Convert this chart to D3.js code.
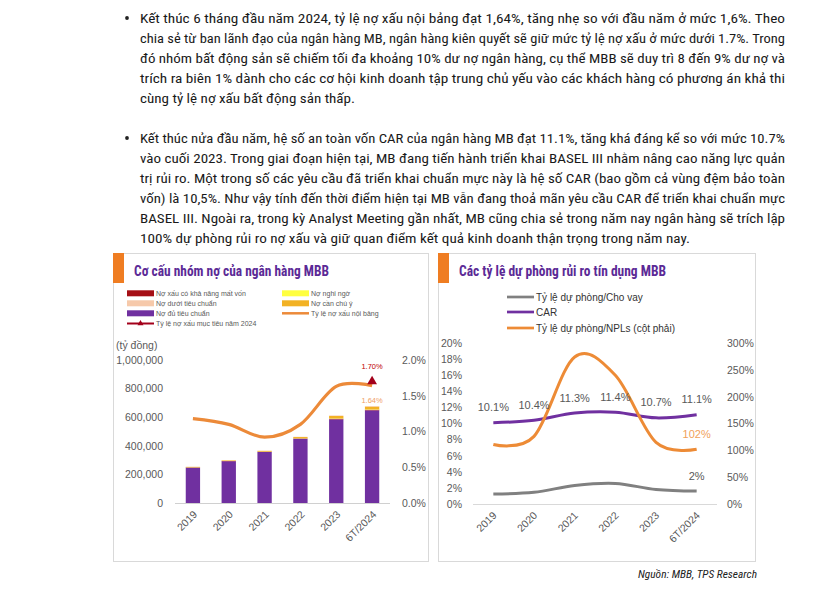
<!DOCTYPE html>
<html><head><meta charset="utf-8">
<script src="https://cdn.jsdelivr.net/npm/d3@7"></script>
<style>
html,body{margin:0;padding:0;background:#fff;}
svg{display:block;}
</style></head><body>
<svg id="c" width="814" height="590"></svg>
<script>
// ---------- DATA ----------
const years = ["2019", "2020", "2021", "2022", "2023", "6T/2024"];
// Left chart: loan groups (tỷ đồng)
const duTieuChuan   = [247000, 292000, 357000, 449000, 585000, 648000]; // Nợ đủ tiêu chuẩn
const canChuY       = [3500, 4000, 5500, 9000, 17000, 19000];          // Nợ cần chú ý
const duoiTieuChuan = [900, 900, 1300, 1700, 3500, 4000];               // Nợ dưới tiêu chuẩn
const nghiNgo       = [500, 600, 700, 1200, 2500, 3000];                // Nợ nghi ngờ
const matVon        = [1600, 1700, 1400, 2100, 3800, 4100];             // Nợ xấu có khả năng mất vốn
const nplRatio      = [1.18, 1.10, 0.92, 1.10, 1.63, 1.64];             // Tỷ lệ nợ xấu nội bảng (%)
const nplTarget2024 = 1.70;                                             // Tỷ lệ nợ xấu mục tiêu năm 2024 (%)
const leftTicks1  = [0, 200000, 400000, 600000, 800000, 1000000];
const rightTicks1 = [0, 0.5, 1.0, 1.5, 2.0];
// Right chart
const provisionLoans = [1.25, 1.45, 2.3, 2.55, 1.8, 1.6];   // Tỷ lệ dự phòng/Cho vay (%)
const carRatio       = [10.1, 10.4, 11.3, 11.4, 10.7, 11.1]; // CAR (%)
const llrRatio       = [111, 126, 274, 240, 115, 102];       // Tỷ lệ dự phòng/NPLs (%) right axis
const leftTicks2  = [0, 2, 4, 6, 8, 10, 12, 14, 16, 18, 20];
const rightTicks2 = [0, 50, 100, 150, 200, 250, 300];

const para1 = [
  "Kết thúc 6 tháng đầu năm 2024, tỷ lệ nợ xấu nội bảng đạt 1,64%, tăng nhẹ so với đầu năm ở mức 1,6%. Theo",
  "chia sẻ từ ban lãnh đạo của ngân hàng MB, ngân hàng kiên quyết sẽ giữ mức tỷ lệ nợ xấu ở mức dưới 1.7%. Trong",
  "đó nhóm bất động sản sẽ chiếm tối đa khoảng 10% dư nợ ngân hàng, cụ thể MBB sẽ duy trì 8 đến 9% dư nợ và",
  "trích ra biên 1% dành cho các cơ hội kinh doanh tập trung chủ yếu vào các khách hàng có phương án khả thi",
  "cùng tỷ lệ nợ xấu bất động sản thấp."
];
const para2 = [
  "Kết thúc nửa đầu năm, hệ số an toàn vốn CAR của ngân hàng MB đạt 11.1%, tăng khá đáng kể so với mức 10.7%",
  "vào cuối 2023. Trong giai đoạn hiện tại, MB đang tiến hành triển khai BASEL III nhằm nâng cao năng lực quản",
  "trị rủi ro. Một trong số các yêu cầu đã triển khai chuẩn mực này là hệ số CAR (bao gồm cả vùng đệm bảo toàn",
  "vốn) là 10,5%. Như vậy tính đến thời điểm hiện tại MB vẫn đang thoả mãn yêu cầu CAR để triển khai chuẩn mực",
  "BASEL III. Ngoài ra, trong kỳ Analyst Meeting gần nhất, MB cũng chia sẻ trong năm nay ngân hàng sẽ trích lập",
  "100% dự phòng rủi ro nợ xấu và giữ quan điểm kết quả kinh doanh thận trọng trong năm nay."
];

// ---------- DRAW ----------
const svg = d3.select("#c");
const NARROW = "'Liberation Sans Narrow','Roboto Condensed','Liberation Sans',Arial,sans-serif";
const SANS = "'Liberation Sans',Arial,sans-serif";
const GRAY = "#595959";

// Paragraphs
function drawPara(lines, y0, lastLen) {
  const g = svg.append("g");
  g.append("circle").attr("cx", 127).attr("cy", y0 - 4.5).attr("r", 1.9).attr("fill", "#222");
  lines.forEach((t, i) => {
    const last = i === lines.length - 1;
    g.append("text").attr("x", 140).attr("y", y0 + i * 20.1)
      .attr("font-family", NARROW).attr("font-size", 13).attr("fill", "#1a1a1a")
      .attr("textLength", last ? lastLen : 645).attr("lengthAdjust", "spacingAndGlyphs")
      .text(t);
  });
}
drawPara(para1, 22.5, 215);
drawPara(para2, 142.5, 550);

// Panels
function panel(x, w, title, titleLen) {
  svg.append("rect").attr("x", x + 0.5).attr("y", 253.5).attr("width", w).attr("height", 308)
    .attr("fill", "none").attr("stroke", "#d9d9d9");
  svg.append("rect").attr("x", x).attr("y", 253).attr("width", 11).attr("height", 30).attr("fill", "#ef7d22");
  svg.append("text").attr("x", x + 21).attr("y", 276).attr("font-family", NARROW)
    .attr("font-weight", "bold").attr("font-size", 14).attr("fill", "#5b2a96")
    .attr("textLength", titleLen).attr("lengthAdjust", "spacingAndGlyphs").text(title);
}
panel(113, 315, "Cơ cấu nhóm nợ của ngân hàng MBB", 195);
panel(438, 317, "Các tỷ lệ dự phòng rủi ro tín dụng MBB", 207);

// ===== Left chart =====
const colors = {
  g1: "#7030a0", g5: "#a50f15", g4: "#ffff40", g2: "#f2b224", g3: "#f6c9aa"
};
const x1 = d3.scaleBand().domain(years).range([175, 390]).paddingInner(0.6).paddingOuter(0.3);
const y1 = d3.scaleLinear().domain([0, 1000000]).range([503, 360]);
const y1r = d3.scaleLinear().domain([0, 2.0]).range([503, 360]);

const rows = years.map((yr, i) => ({year: yr, g1: duTieuChuan[i], g5: matVon[i], g4: nghiNgo[i], g2: canChuY[i], g3: duoiTieuChuan[i]}));
const stack = d3.stack().keys(["g1", "g5", "g4", "g2", "g3"])(rows);
const L = svg.append("g");
stack.forEach(s => {
  L.append("g").attr("fill", colors[s.key]).selectAll("rect").data(s).join("rect")
    .attr("x", d => x1(d.data.year)).attr("width", x1.bandwidth())
    .attr("y", d => y1(d[1])).attr("height", d => Math.max(0, y1(d[0]) - y1(d[1])));
});
// baseline
L.append("line").attr("x1", 175).attr("x2", 390).attr("y1", 503.5).attr("y2", 503.5).attr("stroke", "#d0d0d0");
// axis labels
const axL1 = d3.axisLeft(y1).tickValues(leftTicks1).tickFormat(d3.format(",")).tickSize(0).tickPadding(0);
L.append("g").attr("transform", "translate(163,0)").call(axL1)
  .call(g => g.select(".domain").remove())
  .selectAll("text").attr("font-family", SANS).attr("font-size", 10.5).attr("fill", GRAY);
const axR1 = d3.axisRight(y1r).tickValues(rightTicks1).tickFormat(d => d.toFixed(1) + "%").tickSize(0).tickPadding(0);
L.append("g").attr("transform", "translate(402,0)").call(axR1)
  .call(g => g.select(".domain").remove())
  .selectAll("text").attr("font-family", SANS).attr("font-size", 10.5).attr("fill", GRAY);
L.append("text").attr("x", 116).attr("y", 349).attr("font-family", SANS).attr("font-size", 10.5)
  .attr("fill", GRAY).text("(tỷ đồng)");
// x labels
years.forEach(yr => {
  const cx = x1(yr) + x1.bandwidth() / 2;
  L.append("text").attr("transform", `translate(${cx + 5},515) rotate(-45)`).attr("text-anchor", "end")
    .attr("font-family", SANS).attr("font-size", 10.5).attr("fill", GRAY).text(yr);
});
// NPL line
const cx1 = d => x1(d) + x1.bandwidth() / 2;
const lineNpl = d3.line().x((d, i) => cx1(years[i])).y(d => y1r(d)).curve(d3.curveCardinal.tension(0));
L.append("path").attr("d", lineNpl(nplRatio)).attr("fill", "none").attr("stroke", "#ec8a39").attr("stroke-width", 3.2);
const lastX = cx1(years[years.length - 1]);
L.append("text").attr("x", lastX).attr("y", y1r(nplRatio[5]) + 17.5).attr("text-anchor", "middle")
  .attr("font-family", SANS).attr("font-size", 7.5).attr("fill", "#f0a064").text(nplRatio[5].toFixed(2) + "%");
// target marker
const tri = d3.symbol().type(d3.symbolTriangle).size(42);
L.append("path").attr("d", tri()).attr("transform", `translate(${lastX},${y1r(nplTarget2024)})`).attr("fill", "#a3001b");
L.append("text").attr("x", lastX).attr("y", y1r(nplTarget2024) - 12).attr("text-anchor", "middle")
  .attr("font-family", SANS).attr("font-size", 7.5).attr("fill", "#c00000").text(nplTarget2024.toFixed(2) + "%");

// Left legend
const legItems = [
  {t: "Nợ xấu có khả năng mất vốn", c: colors.g5, x: 127, y: 293.3, type: "rect"},
  {t: "Nợ nghi ngờ", c: colors.g4, x: 282, y: 293.3, type: "rect"},
  {t: "Nợ dưới tiêu chuẩn", c: colors.g3, x: 127, y: 303.3, type: "rect"},
  {t: "Nợ cần chú ý", c: colors.g2, x: 282, y: 303.3, type: "rect"},
  {t: "Nợ đủ tiêu chuẩn", c: colors.g1, x: 127, y: 313.3, type: "rect"},
  {t: "Tỷ lệ nợ xấu nội bảng", c: "#ec8a39", x: 282, y: 313.3, type: "line"},
  {t: "Tỷ lệ nợ xấu mục tiêu năm 2024", c: "#a3001b", x: 127, y: 323.5, type: "marker"}
];
legItems.forEach(it => {
  if (it.type === "rect") {
    L.append("rect").attr("x", it.x).attr("y", it.y - 3).attr("width", 27).attr("height", 6).attr("fill", it.c);
  } else {
    L.append("line").attr("x1", it.x).attr("x2", it.x + 27).attr("y1", it.y).attr("y2", it.y)
      .attr("stroke", it.c).attr("stroke-width", it.type === "line" ? 2.5 : 2);
    if (it.type === "marker") {
      L.append("path").attr("d", d3.symbol().type(d3.symbolTriangle).size(16)())
        .attr("transform", `translate(${it.x + 13.5},${it.y})`).attr("fill", it.c);
    }
  }
  L.append("text").attr("x", it.x + 29).attr("y", it.y + 2.5).attr("font-family", SANS)
    .attr("font-size", 7).attr("fill", GRAY).text(it.t);
});

// ===== Right chart =====
const R = svg.append("g");
const x2 = d3.scaleBand().domain(years).range([473, 717]).paddingInner(0.6).paddingOuter(0.3);
const cx2 = d => x2(d) + x2.bandwidth() / 2;
const y2 = d3.scaleLinear().domain([0, 20]).range([504, 343]);
const y2r = d3.scaleLinear().domain([0, 300]).range([504, 343]);
R.append("line").attr("x1", 473).attr("x2", 717).attr("y1", 504.5).attr("y2", 504.5).attr("stroke", "#d9d9d9");
const axL2 = d3.axisLeft(y2).tickValues(leftTicks2).tickFormat(d => d + "%").tickSize(0).tickPadding(0);
R.append("g").attr("transform", "translate(462,0)").call(axL2)
  .call(g => g.select(".domain").remove())
  .selectAll("text").attr("font-family", SANS).attr("font-size", 10.5).attr("fill", GRAY);
const axR2 = d3.axisRight(y2r).tickValues(rightTicks2).tickFormat(d => d + "%").tickSize(0).tickPadding(0);
R.append("g").attr("transform", "translate(727,0)").call(axR2)
  .call(g => g.select(".domain").remove())
  .selectAll("text").attr("font-family", SANS).attr("font-size", 10.5).attr("fill", GRAY);
years.forEach(yr => {
  R.append("text").attr("transform", `translate(${cx2(yr) + 4},516) rotate(-45)`).attr("text-anchor", "end")
    .attr("font-family", SANS).attr("font-size", 10.5).attr("fill", GRAY).text(yr);
});
const curve = d3.curveCardinal.tension(0);
const lineL = d3.line().x((d, i) => cx2(years[i])).y(d => y2(d)).curve(curve);
const lineR = d3.line().x((d, i) => cx2(years[i])).y(d => y2r(d)).curve(curve);
R.append("path").attr("d", lineL(provisionLoans)).attr("fill", "none").attr("stroke", "#808080").attr("stroke-width", 3);
R.append("path").attr("d", lineL(carRatio)).attr("fill", "none").attr("stroke", "#7030a0").attr("stroke-width", 3);
R.append("path").attr("d", lineR(llrRatio)).attr("fill", "none").attr("stroke", "#ed8b36").attr("stroke-width", 3);
carRatio.forEach((v, i) => {
  R.append("text").attr("x", cx2(years[i])).attr("y", y2(v) - 11.5).attr("text-anchor", "middle")
    .attr("font-family", SANS).attr("font-size", 11).attr("fill", GRAY).text(v.toFixed(1) + "%");
});
const li = years.length - 1;
R.append("text").attr("x", cx2(years[li])).attr("y", y2(provisionLoans[li]) - 11).attr("text-anchor", "middle")
  .attr("font-family", SANS).attr("font-size", 11).attr("fill", GRAY).text(Math.round(provisionLoans[li]) + "%");
R.append("text").attr("x", cx2(years[li])).attr("y", y2r(llrRatio[li]) - 11).attr("text-anchor", "middle")
  .attr("font-family", SANS).attr("font-size", 11).attr("fill", "#f0a15a").text(llrRatio[li] + "%");
// Right legend
const leg2 = [
  {t: "Tỷ lệ dự phòng/Cho vay", c: "#808080", y: 297},
  {t: "CAR", c: "#7030a0", y: 312},
  {t: "Tỷ lệ dự phòng/NPLs (cột phải)", c: "#ed8b36", y: 328}
];
leg2.forEach(it => {
  R.append("line").attr("x1", 507).attr("x2", 534).attr("y1", it.y).attr("y2", it.y)
    .attr("stroke", it.c).attr("stroke-width", 2.7);
  R.append("text").attr("x", 536).attr("y", it.y + 3.6).attr("font-family", SANS)
    .attr("font-size", 10).attr("fill", "#333").text(it.t);
});

// Source
svg.append("text").attr("x", 757).attr("y", 578).attr("text-anchor", "end")
  .attr("font-family", NARROW).attr("font-style", "italic").attr("font-size", 10.5).attr("fill", "#222")
  .attr("textLength", 119).attr("lengthAdjust", "spacingAndGlyphs").text("Nguồn: MBB, TPS Research");
</script>
</body></html>
